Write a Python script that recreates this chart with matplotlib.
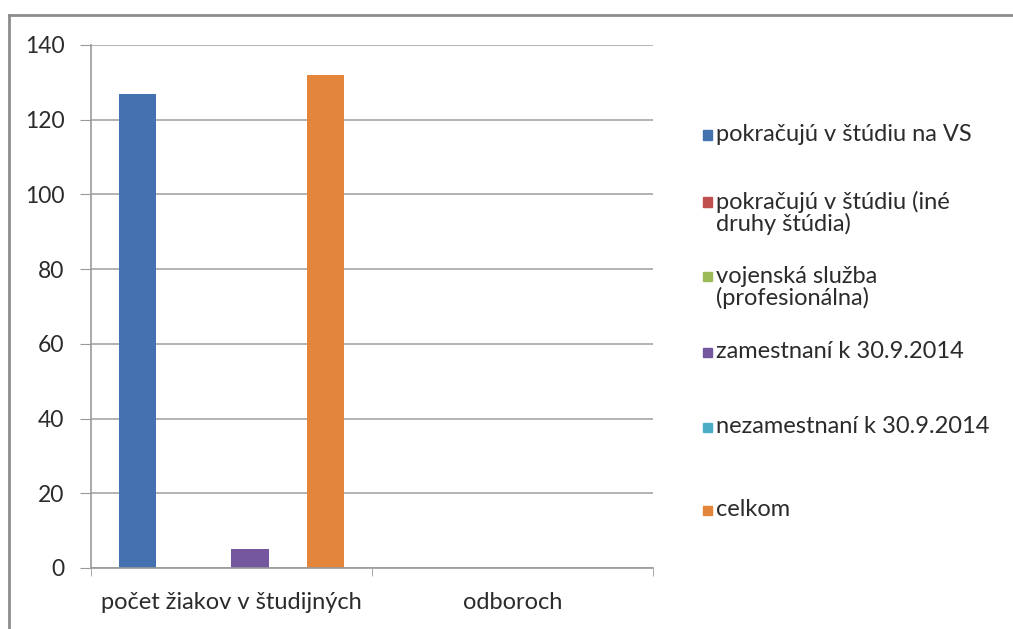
import matplotlib.pyplot as plt
import matplotlib.patches as mpatches
from matplotlib.lines import Line2D
import numpy as np

categories = ['počet žiakov v študijných', 'odboroch']
series = ['pokračujú v štúdiu na VS',
          'pokračujú v štúdiu (iné\ndruhy štúdia)',
          'vojenská služba\n(profesionálna)',
          'zamestnaní k 30.9.2014',
          'nezamestnaní k 30.9.2014',
          'celkom']
values = [
    [127, 0],
    [0, 0],
    [0, 0],
    [5, 0],
    [0, 0],
    [132, 0],
]
colors = ['#4472B0', '#C0504D', '#9BBB59', '#7557A0', '#4BACC6', '#E3863C']

plt.rcParams['font.family'] = ['Lato', 'DejaVu Sans']
txt = '#2B2B2B'

fig = plt.figure(figsize=(10.13, 6.29), dpi=100)
ax = fig.add_axes([0.0898, 0.097, 0.5548, 0.8315])

x = np.arange(len(categories))
w = 0.134
for i, (name, vals) in enumerate(zip(series, values)):
    ax.bar(x + (i - 2.5) * w, vals, w, color=colors[i], label=name)

ax.set_xlim(-0.5, 1.5)
ax.set_ylim(0, 140)
ax.set_yticks(range(0, 141, 20))
ax.yaxis.grid(True, color='#A6A6A6', linewidth=1.2)
ax.set_axisbelow(True)
for s in ['top', 'right']:
    ax.spines[s].set_visible(False)
for s in ['left', 'bottom']:
    ax.spines[s].set_color('#999999')
    ax.spines[s].set_linewidth(1.2)

ax.set_xticks(x)
ax.set_xticklabels(categories)
ax.set_xticks([-0.5, 0.5, 1.5], minor=True)
ax.tick_params(axis='x', which='major', length=0, pad=17, labelsize=17, labelcolor=txt)
ax.tick_params(axis='x', which='minor', length=6, color='#999999', direction='out')
ax.tick_params(axis='y', length=8, color='#999999', pad=11, labelsize=16.5, labelcolor=txt)

# legend drawn by hand, Excel style
rows_y = [135, 202, 277, 352, 427, 510]
for name, c, yp in zip(series, colors, rows_y):
    yf = 1 - yp / 629
    fig.patches.append(mpatches.Rectangle((703 / 1013, yf - 4.5 / 629), 9 / 1013, 9 / 629,
                                          transform=fig.transFigure, color=c))
    fig.text(716 / 1013, yf + 11 / 629, name, ha='left', va='top', fontsize=17,
             color=txt, linespacing=1.0)

# outer frame
fig.add_artist(Line2D([9 / 1013, 1.0], [1 - 15 / 629] * 2, transform=fig.transFigure,
                      color='#8C8C8C', linewidth=2))
fig.add_artist(Line2D([9 / 1013] * 2, [0, 1 - 15 / 629], transform=fig.transFigure,
                      color='#8C8C8C', linewidth=2))

fig.savefig('out.png', dpi=100)
